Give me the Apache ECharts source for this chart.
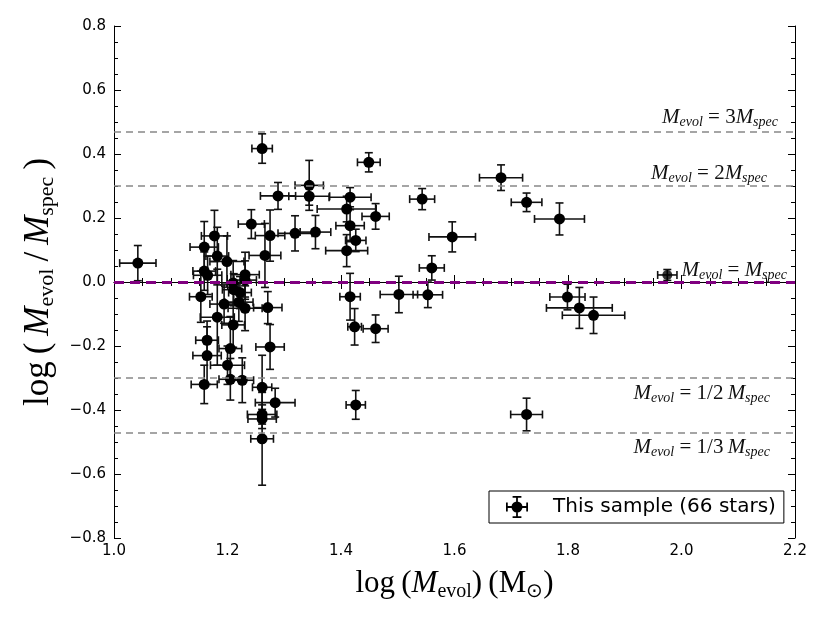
<!DOCTYPE html>
<html><head><meta charset="utf-8">
<script src="https://cdn.jsdelivr.net/npm/echarts@6/dist/echarts.min.js"></script>
<style>html,body{margin:0;padding:0;background:#fff}#c{width:830px;height:623px}</style>
</head><body><div id="c"></div>
<script>
// log(M_evol)
const xVals = [1.042,1.261,1.289,1.344,1.344,1.416,1.410,1.416,1.426,1.410,1.416,1.242,1.275,1.319,1.355,1.266,1.177,1.159,1.182,1.199,1.159,1.165,1.231,1.231,1.210,1.211,1.222,1.153,1.194,1.220,1.231,1.271,1.182,1.210,1.164,1.205,1.275,1.164,1.200,1.205,1.226,1.159,1.261,1.284,1.261,1.261,1.261,1.424,1.426,1.449,1.461,1.543,1.596,1.560,1.502,1.553,1.461,1.682,1.727,1.785,1.799,1.820,1.845,1.727];
// log(M_evol/M_spec)
const yVals = [0.059,0.417,0.269,0.302,0.268,0.265,0.228,0.176,0.130,0.098,-0.046,0.181,0.145,0.152,0.156,0.083,0.144,0.109,0.081,0.064,0.034,0.021,0.023,0.006,-0.003,-0.024,-0.033,-0.046,-0.069,-0.063,-0.082,-0.080,-0.110,-0.134,-0.182,-0.208,-0.203,-0.230,-0.260,-0.304,-0.307,-0.320,-0.329,-0.377,-0.414,-0.428,-0.490,-0.140,-0.384,0.374,0.205,0.259,0.141,0.044,-0.039,-0.040,-0.146,0.326,0.249,0.197,-0.047,-0.081,-0.104,-0.414];
const xErr = [0.032,0.018,0.031,0.025,0.036,0.037,0.052,0.025,0.018,0.037,0.018,0.023,0.026,0.030,0.027,0.028,0.023,0.025,0.020,0.030,0.020,0.025,0.025,0.020,0.020,0.020,0.020,0.020,0.025,0.025,0.030,0.025,0.030,0.020,0.020,0.020,0.025,0.025,0.030,0.020,0.020,0.023,0.017,0.035,0.026,0.025,0.020,0.012,0.017,0.020,0.024,0.022,0.041,0.022,0.033,0.026,0.022,0.038,0.027,0.044,0.031,0.058,0.055,0.028];
const yErr = [0.055,0.046,0.042,0.078,0.028,0.030,0.040,0.050,0.035,0.050,0.073,0.045,0.080,0.055,0.052,0.100,0.080,0.080,0.090,0.080,0.060,0.060,0.070,0.060,0.070,0.050,0.050,0.080,0.060,0.060,0.070,0.050,0.150,0.070,0.060,0.100,0.070,0.090,0.060,0.065,0.070,0.060,0.100,0.045,0.030,0.030,0.145,0.057,0.045,0.030,0.040,0.033,0.047,0.038,0.057,0.040,0.043,0.040,0.029,0.050,0.040,0.064,0.057,0.051];
// annotation marker next to the M_evol = M_spec label
const annotX = [1.975], annotY = [0.022], annotXErr = [0.017], annotYErr = [0.017];

const xTicks = [1.0, 1.2, 1.4, 1.6, 1.8, 2.0, 2.2];
const yTicks = [-0.8, -0.6, -0.4, -0.2, 0.0, 0.2, 0.4, 0.6, 0.8];
const refLines = [
  {y: 0.47, label: '{i|M}{s|evol}{r| = 3}{i|M}{s|spec}', dist: [17, 2]},
  {y: 0.30, label: '{i|M}{s|evol}{r| = 2}{i|M}{s|spec}', dist: [28, 1]},
  {y: -0.30, label: '{i|M}{s|evol}{r| = 1/2\u2009}{i|M}{s|spec}', dist: [25, 3]},
  {y: -0.47, label: '{i|M}{s|evol}{r| = 1/3\u2009}{i|M}{s|spec}', dist: [25, 3]}
];
const unityLabel = '{i|M}{s|evol}{r| = }{i|M}{s|spec}';
const legendName = 'This sample (66 stars)';

const mainData = xVals.map((x, i) => [x, yVals[i], xErr[i], yErr[i]]);
const annotData = annotX.map((x, i) => [x, annotY[i], annotXErr[i], annotYErr[i]]);

const serif = 'Liberation Serif';
const labRich = {
  i: {fontFamily: serif, fontStyle: 'italic', fontSize: 21, lineHeight: 24, color: '#111'},
  r: {fontFamily: serif, fontSize: 21, lineHeight: 24, color: '#111'},
  s: {fontFamily: serif, fontStyle: 'italic', fontSize: 14, lineHeight: 14, verticalAlign: 'bottom', color: '#111'}
};
const titleRichX = {
  r: {fontFamily: serif, fontSize: 31, lineHeight: 36, color: '#000'},
  i: {fontFamily: serif, fontStyle: 'italic', fontSize: 31, lineHeight: 36, color: '#000'},
  s: {fontFamily: serif, fontSize: 20, lineHeight: 20, verticalAlign: 'bottom', color: '#000'}
};
const titleRichY = {
  r: {fontFamily: serif, fontSize: 35, lineHeight: 40, color: '#000'},
  i: {fontFamily: serif, fontStyle: 'italic', fontSize: 35, lineHeight: 40, color: '#000'},
  s: {fontFamily: serif, fontSize: 22, lineHeight: 22, verticalAlign: 'bottom', color: '#000'}
};

function fmt(v) {
  const s = Math.abs(v).toFixed(1);
  return (v < -1e-9 ? '\u2212' : '') + s;
}

function errRender(params, api) {
  const x = api.value(0), y = api.value(1), ex = api.value(2), ey = api.value(3);
  const l = api.coord([x - ex, y]), r = api.coord([x + ex, y]);
  const t = api.coord([x, y + ey]), b = api.coord([x, y - ey]);
  const cap = 4;
  const st = {stroke: '#111', lineWidth: 1.6};
  const ln = (x1, y1, x2, y2) => ({type: 'line', shape: {x1, y1, x2, y2}, style: st});
  return {type: 'group', children: [
    ln(l[0], l[1], r[0], r[1]),
    ln(t[0], t[1], b[0], b[1]),
    ln(l[0], l[1] - cap, l[0], l[1] + cap),
    ln(r[0], r[1] - cap, r[0], r[1] + cap),
    ln(t[0] - cap, t[1], t[0] + cap, t[1]),
    ln(b[0] - cap, b[1], b[0] + cap, b[1])
  ]};
}

const legendIcon = 'path://M2 11.2H22V12.8H2Z M11.2 2H12.8V22H11.2Z M2 8H3.6V16H2Z M20.4 8H22V16H20.4Z M8 2H16V3.6H8Z M8 20.4H16V22H8Z M7 12A5 5 0 1 1 17 12A5 5 0 1 1 7 12Z';

const axisCommon = {
  type: 'value',
  axisLine: {show: true, lineStyle: {color: '#000', width: 1}},
  axisTick: {show: true, inside: true, length: 7, lineStyle: {color: '#000', width: 1}},
  minorTick: {show: true, splitNumber: 4, length: 4, lineStyle: {color: '#000', width: 1}},
  splitLine: {show: false},
  minorSplitLine: {show: false}
};

const chart = echarts.init(document.getElementById('c'), null, {renderer: 'canvas'});
chart.setOption({
  animation: false,
  backgroundColor: '#fff',
  grid: {left: 114, right: 35, top: 26, bottom: 85, containLabel: false},
  xAxis: [
    Object.assign({}, axisCommon, {
      min: xTicks[0], max: xTicks[xTicks.length - 1], interval: 0.2, position: 'bottom',
      axisLabel: {fontFamily: 'DejaVu Sans', fontSize: 15, color: '#000', margin: 6, formatter: fmt, showMinLabel: true, showMaxLabel: true},
      name: '{r|log\u2009(}{i|M}{s|evol}{r|)\u2009(M}{s|\u2299}{r|)}',
      nameLocation: 'middle', nameGap: 28,
      nameTextStyle: {rich: titleRichX}
    }),
    Object.assign({}, axisCommon, {
      min: xTicks[0], max: xTicks[xTicks.length - 1], interval: 0.2, position: 'top',
      axisLabel: {show: false}
    })
  ],
  yAxis: [
    Object.assign({}, axisCommon, {
      min: yTicks[0], max: yTicks[yTicks.length - 1], interval: 0.2, position: 'left',
      axisLabel: {fontFamily: 'DejaVu Sans', fontSize: 15, color: '#000', margin: 8, formatter: fmt, showMinLabel: true, showMaxLabel: true},
      name: '{r|log\u2009(\u2009}{i|M}{s|evol}{r|\u2009/\u2009}{i|M}{s|spec}{r|\u2009)}',
      nameLocation: 'middle', nameGap: 53, nameRotate: 90,
      nameTextStyle: {rich: titleRichY}
    }),
    Object.assign({}, axisCommon, {
      min: yTicks[0], max: yTicks[yTicks.length - 1], interval: 0.2, position: 'right',
      axisLabel: {show: false}
    })
  ],
  legend: {
    data: [{name: legendName, icon: legendIcon}],
    selectedMode: false,
    left: 489, top: 491,
    orient: 'horizontal',
    padding: [5, 8, 5, 17],
    itemWidth: 22, itemHeight: 22,
    backgroundColor: '#fff',
    borderColor: '#000', borderWidth: 1, borderRadius: 0,
    textStyle: {fontFamily: 'DejaVu Sans', fontSize: 20, color: '#000', padding: [0, 0, 0, 20]}
  },
  series: [
    {
      type: 'custom', name: 'errbars', renderItem: errRender, data: mainData,
      encode: {x: 0, y: 1}, z: 3, silent: true,
      markLine: {
        silent: true, symbol: 'none', animation: false,
        lineStyle: {color: '#888', type: [7, 5], width: 1.5},
        data: refLines.map(r => ({
          yAxis: r.y,
          label: {
            show: true, formatter: r.label, rich: labRich,
            position: r.y > 0 ? 'insideEndTop' : 'insideEndBottom',
            distance: r.dist
          }
        })).concat([{
          yAxis: 0,
          lineStyle: {color: '#800080', type: [10, 6], width: 3},
          label: {show: true, formatter: unityLabel, rich: labRich, position: 'insideEndTop', distance: [8, 0]}
        }])
      }
    },
    {
      type: 'scatter', name: legendName, data: mainData, encode: {x: 0, y: 1},
      symbol: 'circle', symbolSize: 11, itemStyle: {color: '#000', opacity: 1}, z: 4, silent: true
    },
    {
      type: 'custom', name: 'annot-err', renderItem: errRender, data: annotData,
      encode: {x: 0, y: 1}, z: 3, silent: true
    },
    {
      type: 'scatter', name: 'annot', data: annotData, encode: {x: 0, y: 1},
      symbol: 'circle', symbolSize: 10, itemStyle: {color: '#000'}, z: 4, silent: true
    }
  ]
});
</script>
</body></html>
